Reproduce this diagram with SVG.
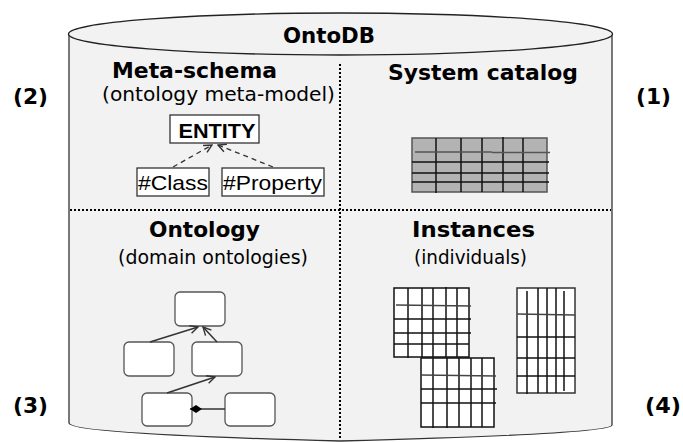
<svg xmlns="http://www.w3.org/2000/svg" width="683" height="442" viewBox="0 0 683 442">
<style>
.t{font-family:"DejaVu Sans",Verdana,sans-serif;fill:#000}
.b{font-weight:bold}
.a{font-family:"Liberation Sans",Arial,sans-serif;fill:#000}
.box{fill:#fff;stroke:#333;stroke-width:1.3}
.rbox{fill:#fff;stroke:#555;stroke-width:1.3}
.dot{stroke:#000;stroke-width:2;stroke-dasharray:2 2;fill:none}
.dash{stroke:#333;stroke-width:1.3;stroke-dasharray:5 4;fill:none}
.ln{stroke:#333;stroke-width:1.5;fill:none}
.g{stroke:#111;stroke-width:1.5}
</style>
<defs>
<marker id="open" viewBox="0 0 10 10" refX="9" refY="5" markerWidth="10" markerHeight="10" markerUnits="userSpaceOnUse" orient="auto">
<path d="M1,1 L9,5 L1,9" fill="none" stroke="#333" stroke-width="1.4"/>
</marker>
<marker id="dia" viewBox="0 0 12 8" refX="0" refY="4" markerWidth="12" markerHeight="8" markerUnits="userSpaceOnUse" orient="auto">
<path d="M0,4 L6,0 L12,4 L6,8 Z" fill="#000"/>
</marker>
</defs>
<rect width="683" height="442" fill="#fff"/>
<g id="cylinder">
<path d="M69,34 L69,423 Q69,434 340,441 Q612,434 612,425 L612,34" fill="#f2f2f2" stroke="#333" stroke-width="1.3"/>
<ellipse cx="340.5" cy="34" rx="272" ry="21" fill="#f2f2f2" stroke="#222" stroke-width="1.3"/>
<text class="t b" x="329" y="43" font-size="21" text-anchor="middle" textLength="92" lengthAdjust="spacingAndGlyphs">OntoDB</text>
</g>
<g id="dividers">
<line class="dot" x1="340" y1="64" x2="340" y2="440"/>
<line class="dot" x1="70" y1="210" x2="611" y2="210"/>
</g>
<g id="labels">
<text class="t b" x="30.5" y="104" font-size="21" text-anchor="middle" textLength="35" lengthAdjust="spacingAndGlyphs">(2)</text>
<text class="t b" x="653.5" y="104" font-size="21" text-anchor="middle" textLength="35" lengthAdjust="spacingAndGlyphs">(1)</text>
<text class="t b" x="30.5" y="413" font-size="21" text-anchor="middle" textLength="35" lengthAdjust="spacingAndGlyphs">(3)</text>
<text class="t b" x="663" y="413" font-size="21" text-anchor="middle" textLength="36" lengthAdjust="spacingAndGlyphs">(4)</text>
</g>
<g id="meta-schema">
<text class="t b" x="194.5" y="78" font-size="21" text-anchor="middle" textLength="165" lengthAdjust="spacingAndGlyphs">Meta-schema</text>
<text class="t" x="218.5" y="101" font-size="19" text-anchor="middle" textLength="233" lengthAdjust="spacingAndGlyphs">(ontology meta-model)</text>
</g>
<g id="entity">
<rect class="box" x="170" y="115" width="89" height="28"/>
<text class="a b" x="217" y="138" font-size="21" text-anchor="middle" textLength="77" lengthAdjust="spacingAndGlyphs">ENTITY</text>
</g>
<g id="class">
<rect class="box" x="137" y="168" width="72" height="28"/>
<text class="a" x="173" y="190" font-size="21" text-anchor="middle" textLength="70" lengthAdjust="spacingAndGlyphs">#Class</text>
</g>
<g id="property">
<rect class="box" x="222" y="168" width="102" height="28"/>
<text class="a" x="272.5" y="190" font-size="21" text-anchor="middle" textLength="99" lengthAdjust="spacingAndGlyphs">#Property</text>
</g>
<g id="system-catalog">
<text class="t b" x="483" y="80" font-size="21" text-anchor="middle" textLength="190" lengthAdjust="spacingAndGlyphs">System catalog</text>
<rect x="412" y="138" width="135" height="54" fill="#b3b3b3" stroke="#555" stroke-width="1.5"/>
<g class="g">
<line x1="436" y1="138" x2="436" y2="193"/><line x1="461" y1="138" x2="461" y2="192"/><line x1="482" y1="138" x2="482" y2="192"/><line x1="503" y1="137" x2="503" y2="192"/><line x1="523" y1="138" x2="523" y2="192"/>
<line x1="415" y1="152" x2="492" y2="152" stroke="#555"/><line x1="492" y1="152.5" x2="550" y2="152.5" stroke="#555"/>
<line x1="412" y1="162" x2="549" y2="162"/><line x1="412" y1="173" x2="549" y2="173"/><line x1="412" y1="182" x2="549" y2="182"/>
</g>
</g>
<g id="ontology">
<text class="t b" x="204.5" y="237" font-size="21" text-anchor="middle" textLength="111" lengthAdjust="spacingAndGlyphs">Ontology</text>
<text class="t" x="213" y="264" font-size="19" text-anchor="middle" textLength="190" lengthAdjust="spacingAndGlyphs">(domain ontologies)</text>
</g>
<g id="o-top"><rect class="rbox" x="175" y="292" width="50" height="34" rx="5"/></g>
<g id="o-midleft"><rect class="rbox" x="124" y="342" width="50" height="34" rx="5"/></g>
<g id="o-midright"><rect class="rbox" x="192" y="342" width="50" height="34" rx="5"/></g>
<g id="o-botleft"><rect class="rbox" x="142" y="393" width="50" height="33" rx="5"/></g>
<g id="o-botright"><rect class="rbox" x="225" y="393" width="50" height="33" rx="5"/></g>
<g id="instances">
<text class="t b" x="473.5" y="237" font-size="21" text-anchor="middle" textLength="123" lengthAdjust="spacingAndGlyphs">Instances</text>
<text class="t" x="470.5" y="264" font-size="19" text-anchor="middle" textLength="113" lengthAdjust="spacingAndGlyphs">(individuals)</text>
</g>
<g id="grid-a">
<rect x="394" y="288" width="75" height="69" fill="#fff" stroke="#111" stroke-width="1.5"/>
<g class="g">
<line x1="408" y1="288" x2="408" y2="358"/><line x1="422" y1="288" x2="422" y2="357"/><line x1="433" y1="288" x2="433" y2="357"/><line x1="446" y1="287" x2="446" y2="357"/><line x1="457" y1="288" x2="457" y2="357"/>
<line x1="396" y1="305" x2="471" y2="306" stroke="#444"/><line x1="394" y1="319" x2="471" y2="319"/><line x1="394" y1="333" x2="471" y2="333"/><line x1="394" y1="344" x2="469" y2="344"/>
</g>
</g>
<g id="grid-b">
<rect x="421" y="358" width="73" height="69" fill="#fff" stroke="#111" stroke-width="1.5"/>
<g class="g">
<line x1="433" y1="358" x2="433" y2="428"/><line x1="447" y1="358" x2="447" y2="428"/><line x1="459" y1="358" x2="459" y2="427"/><line x1="471" y1="358" x2="471" y2="427"/><line x1="482" y1="358" x2="482" y2="427"/>
<line x1="421" y1="375" x2="496" y2="376" stroke="#444"/><line x1="421" y1="389" x2="497" y2="389"/><line x1="421" y1="403" x2="496" y2="403"/>
</g>
</g>
<g id="grid-c">
<rect x="517" y="288" width="58" height="105" fill="#fff" stroke="#333" stroke-width="1.5"/>
<g class="g">
<line x1="527" y1="291" x2="527" y2="394"/><line x1="538" y1="288" x2="538" y2="393"/><line x1="547" y1="288" x2="547" y2="393"/><line x1="556" y1="288" x2="556" y2="393"/><line x1="564" y1="291" x2="564" y2="391"/>
<line x1="517" y1="314" x2="575" y2="315" stroke="#444"/><line x1="517" y1="337" x2="575" y2="337"/><line x1="517" y1="358" x2="575" y2="358"/><line x1="517" y1="376" x2="575" y2="376"/>
</g>
</g>
<g id="connectors">
<line class="dash" x1="173" y1="167" x2="212" y2="145" marker-end="url(#open)"/>
<line class="dash" x1="273" y1="167" x2="218" y2="145" marker-end="url(#open)"/>
<line class="ln" x1="150" y1="342" x2="198" y2="327" marker-end="url(#open)"/>
<line class="ln" x1="217" y1="342" x2="203" y2="327" marker-end="url(#open)"/>
<line class="ln" x1="167" y1="393" x2="215" y2="377" marker-end="url(#open)"/>
<line class="ln" x1="190" y1="409" x2="225" y2="409" marker-start="url(#dia)"/>
</g>
</svg>
